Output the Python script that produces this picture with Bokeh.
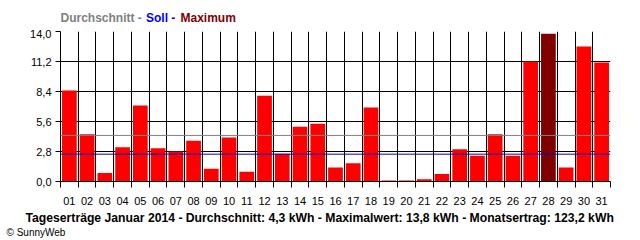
from bokeh.plotting import figure
from bokeh.layouts import column
from bokeh.models import Range1d, FixedTicker, Span, CustomJSTickFormatter, ColumnDataSource, Title
from bokeh.core.properties import value
from bokeh.embed import file_html
from bokeh.resources import INLINE

# ---- data ----
days = [f"{d:02d}" for d in range(1, 32)]
yields = [8.5, 4.4, 0.8, 3.2, 7.1, 3.1, 2.8, 3.8, 1.2, 4.1,
          0.9, 8.0, 2.6, 5.1, 5.4, 1.3, 1.7, 6.9, 0.1, 0.1,
          0.2, 0.7, 3.0, 2.4, 4.4, 2.4, 11.2, 13.8, 1.3, 12.6, 11.1]
average = 4.3
target = 2.55
y_ticks = [0.0, 2.8, 5.6, 8.4, 11.2, 14.0]
title_parts = ["Durchschnitt - ", "Soll - ", "Maximum"]
footer = "Tageserträge Januar 2014 - Durchschnitt: 4,3 kWh - Maximalwert: 13,8 kWh - Monatsertrag: 123,2 kWh"
copyright_text = "© SunnyWeb"

W = 640
FONT = "Liberation Sans"
LEFT, RIGHT = 60, 30

# ---- header strip (frame spans the same pixels as the chart frame) ----
HH = 29
header = figure(width=W, height=HH, output_backend="svg", toolbar_location=None,
                x_range=Range1d(LEFT, W - RIGHT), y_range=Range1d(0, HH),
                x_axis_type=None, y_axis_type=None,
                min_border_left=LEFT, min_border_right=RIGHT,
                min_border_top=0, min_border_bottom=0)
header.outline_line_color = None
header.grid.visible = False
hsrc = ColumnDataSource(dict(x=[60, 145.5, 180], y=[11.5, 11.5, 11.5], t=title_parts,
                             c=["#808080", "#0000FF", "#800000"]))
header.text(x="x", y="y", text="t", text_color="c", source=hsrc,
            text_font=value(FONT), text_font_style="bold", text_font_size="12px",
            text_baseline="alphabetic", text_align="left")

# ---- main chart ----
n = len(days)
xs = list(range(1, n + 1))
vmax = max(yields)
colors = ["#800000" if v == vmax else "#FF0000" for v in yields]
src = ColumnDataSource(dict(x=xs, top=yields, color=colors, day=days))

p = figure(width=W, height=240 - HH, output_backend="svg", toolbar_location=None,
           x_range=Range1d(0.5, n + 0.5), y_range=Range1d(0, 14),
           min_border_left=LEFT, min_border_right=RIGHT, min_border_top=2, min_border_bottom=59)
p.outline_line_color = None

p.vbar(x="x", top="top", bottom=0, width=0.83, fill_color="color", line_color=None, source=src)

boundaries = [i + 0.5 for i in range(0, n + 1)]
p.xgrid.ticker = FixedTicker(ticks=boundaries)
p.xgrid.grid_line_color = "black"
p.ygrid.ticker = FixedTicker(ticks=y_ticks)
p.ygrid.grid_line_color = "black"

p.xaxis.ticker = FixedTicker(ticks=xs, minor_ticks=boundaries)
p.xaxis.major_label_overrides = {x: d for x, d in zip(xs, days)}
p.xaxis.major_tick_out = 0
p.xaxis.major_tick_in = 0
p.xaxis.minor_tick_out = 6
p.xaxis.minor_tick_in = 0
p.xaxis.minor_tick_line_color = "black"
p.xaxis.axis_line_color = "black"
p.xaxis.major_label_standoff = 9
p.xaxis.major_label_text_font = FONT
p.xaxis.major_label_text_font_size = "11px"
p.xaxis.major_label_text_color = "black"

p.yaxis.ticker = FixedTicker(ticks=y_ticks)
p.yaxis.formatter = CustomJSTickFormatter(code="return tick.toFixed(1).replace('.', ',');")
p.yaxis.major_tick_out = 5
p.yaxis.major_tick_in = 0
p.yaxis.minor_tick_line_color = None
p.yaxis.major_tick_line_color = "black"
p.yaxis.axis_line_color = "black"
p.yaxis.major_label_standoff = 4
p.yaxis.major_label_text_font = FONT
p.yaxis.major_label_text_font_size = "11px"
p.yaxis.major_label_text_color = "black"

p.add_layout(Span(location=average, dimension="width", line_color="#808080", line_width=1))
p.add_layout(Span(location=target, dimension="width", line_color="#0000CC", line_width=1))

# ---- footer texts as titles below the axis ----
p.add_layout(Title(text=footer, align="left", offset=25 - LEFT, standoff=3,
                   text_font=FONT, text_font_style="bold", text_font_size="12.2px",
                   text_color="black"), "below")
p.add_layout(Title(text=copyright_text, align="left", offset=6 - LEFT, standoff=-4,
                   text_font=FONT, text_font_style="normal", text_font_size="10px",
                   text_color="black"), "below")

layout = column(header, p, spacing=0)
open("out.html", "w").write(file_html(layout, INLINE))
